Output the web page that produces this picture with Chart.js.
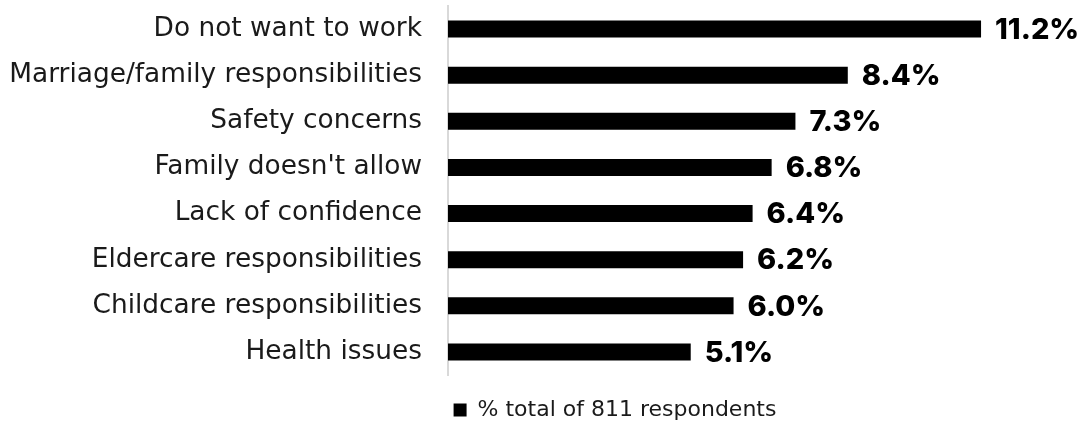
<!DOCTYPE html>
<html>
<head>
<meta charset="utf-8">
<script src="https://cdn.jsdelivr.net/npm/chart.js@4/dist/chart.umd.min.js"></script>
<style>
  html, body { margin: 0; padding: 0; background: #fff; }
  #wrap { width: 1081px; height: 424px; }
</style>
</head>
<body>
<div id="wrap"><canvas id="reasons" width="1081" height="424"></canvas></div>
<script>
const reasons = [
  'Do not want to work',
  'Marriage/family responsibilities',
  'Safety concerns',
  "Family doesn't allow",
  'Lack of confidence',
  'Eldercare responsibilities',
  'Childcare responsibilities',
  'Health issues'
]
const shares = [11.2, 8.4, 7.3, 6.8, 6.4, 6.2, 6.0, 5.1]
const seriesName = '% total of 811 respondents'

// bold percentage written just past the end of each bar
const valueLabels = {
  id: 'valueLabels',
  afterDatasetsDraw(chart) {
    const ctx = chart.ctx
    const meta = chart.getDatasetMeta(0)
    ctx.save()
    ctx.font = '800 29px Inter'
    ctx.fillStyle = '#000'
    ctx.textAlign = 'left'
    ctx.textBaseline = 'middle'
    meta.data.forEach((bar, i) => {
      const v = chart.data.datasets[0].data[i]
      ctx.fillText(v.toFixed(1) + '%', bar.x + 14, bar.y + 1)
    })
    ctx.restore()
  }
}

// legend sits under the bars rather than centred on the whole canvas
const legendOffset = {
  id: 'legendOffset',
  afterLayout(chart) {
    chart.legend.left = 149
  }
}

new Chart(document.getElementById('reasons'), {
  type: 'bar',
  data: {
    labels: reasons,
    datasets: [{
      label: seriesName,
      data: shares,
      backgroundColor: '#000',
      borderWidth: 0,
      barPercentage: 0.37,
      categoryPercentage: 1
    }]
  },
  options: {
    indexAxis: 'y',
    responsive: false,
    animation: false,
    layout: { padding: { left: 0, right: 0, top: 6, bottom: 0 } },
    scales: {
      x: { display: false, min: 0, max: 13.3 },
      y: {
        grid: {
          drawOnChartArea: false,
          drawTicks: true,
          tickLength: 26,
          tickColor: 'transparent'
        },
        border: { color: '#d9d9d9', width: 2 },
        ticks: {
          padding: 0,
          color: '#1a1a1a',
          font: { family: 'DejaVu Sans', size: 26.4, lineHeight: 0.4 }
        },
        afterFit(scale) { scale.width = 448 }
      }
    },
    plugins: {
      legend: {
        position: 'bottom',
        maxHeight: 49,
        labels: {
          boxWidth: 13,
          boxHeight: 13,
          padding: 24,
          color: '#1a1a1a',
          font: { family: 'DejaVu Sans', size: 22 }
        }
      },
      tooltip: { enabled: false }
    }
  },
  plugins: [valueLabels, legendOffset]
})
</script>
</body>
</html>
